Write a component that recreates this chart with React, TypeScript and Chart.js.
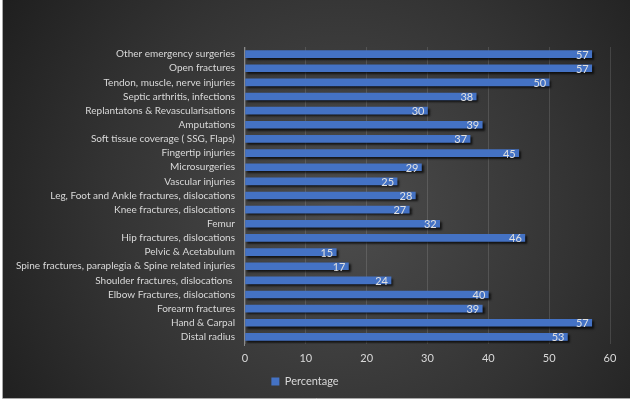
import React, { useEffect, useRef } from "react";
import { Chart, registerables } from "chart.js";

Chart.register(...registerables);

const categories = [
  "Other emergency surgeries",
  "Open fractures",
  "Tendon, muscle, nerve injuries",
  "Septic arthritis, infections",
  "Replantatons & Revascularisations",
  "Amputations",
  "Soft tissue coverage ( SSG, Flaps)",
  "Fingertip injuries",
  "Microsurgeries",
  "Vascular injuries",
  "Leg, Foot and Ankle fractures, dislocations",
  "Knee fractures, dislocations",
  "Femur",
  "Hip fractures, dislocations",
  "Pelvic & Acetabulum",
  "Spine fractures, paraplegia & Spine related injuries",
  "Shoulder fractures, dislocations ",
  "Elbow Fractures, dislocations",
  "Forearm fractures",
  "Hand & Carpal",
  "Distal radius",
];

const percentage = [57, 57, 50, 38, 30, 39, 37, 45, 29, 25, 28, 27, 32, 46, 15, 17, 24, 40, 39, 57, 53];

const seriesName = "Percentage";
const xTicks = [0, 10, 20, 30, 40, 50, 60];

const FONT = "Lato, 'Open Sans', sans-serif";

const bgPlugin = {
  id: "bgPlugin",
  beforeDraw(chart: any) {
    const { ctx, width, height } = chart;
    ctx.save();
    ctx.fillStyle = "#ffffff";
    ctx.fillRect(0, 0, width, height);
    const g = ctx.createRadialGradient(340, 210, 10, 340, 210, 420);
    g.addColorStop(0, "#4c4c4c");
    g.addColorStop(0.55, "#333333");
    g.addColorStop(1, "#1c1c1c");
    ctx.fillStyle = g;
    ctx.fillRect(3, 0, width - 3, height - 3);
    ctx.strokeStyle = "#a8a8a8";
    ctx.lineWidth = 1;
    ctx.beginPath();
    ctx.moveTo(2.5, 0);
    ctx.lineTo(2.5, height - 2.5);
    ctx.lineTo(width, height - 2.5);
    ctx.stroke();
    ctx.restore();
  },
};

const shadowPlugin = {
  id: "shadowPlugin",
  beforeDatasetDraw(chart: any) {
    const ctx = chart.ctx;
    ctx.save();
    ctx.shadowColor = "rgba(0,0,0,0.7)";
    ctx.shadowOffsetX = 2;
    ctx.shadowOffsetY = 2;
    ctx.shadowBlur = 2;
  },
  afterDatasetDraw(chart: any) {
    chart.ctx.restore();
  },
};

const labelPlugin = {
  id: "labelPlugin",
  afterDatasetsDraw(chart: any) {
    const ctx = chart.ctx;
    const meta = chart.getDatasetMeta(0);
    const data = chart.data.datasets[0].data;
    ctx.save();
    ctx.font = `11px ${FONT}`;
    ctx.fillStyle = "#e0e0e0";
    ctx.textAlign = "right";
    ctx.textBaseline = "middle";
    meta.data.forEach((bar: any, i: number) => {
      ctx.fillText(String(data[i]), bar.x - 3, bar.y + 1);
    });
    ctx.restore();
  },
};

const axisLinePlugin = {
  id: "axisLinePlugin",
  afterDatasetsDraw(chart: any) {
    const { ctx, chartArea } = chart;
    ctx.save();
    ctx.strokeStyle = "#8a8a8a";
    ctx.lineWidth = 1;
    ctx.beginPath();
    ctx.moveTo(Math.round(chartArea.left) - 0.5, chartArea.top);
    ctx.lineTo(Math.round(chartArea.left) - 0.5, chartArea.bottom + 2);
    ctx.stroke();
    ctx.restore();
  },
};

export default function App() {
  const ref = useRef<HTMLCanvasElement | null>(null);

  useEffect(() => {
    document.body.style.margin = "0";
    const canvas = ref.current;
    if (!canvas) return;
    const chart = new Chart(canvas, {
      type: "bar",
      data: {
        labels: categories,
        datasets: [
          {
            label: seriesName,
            data: percentage,
            backgroundColor: "#4472c4",
            borderWidth: 0,
            barThickness: 7,
          },
        ],
      },
      options: {
        indexAxis: "y",
        animation: false,
        responsive: false,
        maintainAspectRatio: false,
        layout: { padding: { top: 47, right: 20, bottom: 4, left: 0 } },
        scales: {
          x: {
            min: 0,
            max: 60,
            afterBuildTicks(scale: any) {
              scale.ticks = xTicks.map((v) => ({ value: v }));
            },
            grid: {
              color: "rgba(255,255,255,0.13)",
              drawTicks: false,
              lineWidth: 1,
            },
            border: { display: false },
            ticks: {
              color: "#d9d9d9",
              font: { family: FONT, size: 11 },
              padding: 8,
            },
            afterFit(scale: any) {
              scale.height = 22;
            },
          },
          y: {
            grid: { display: false, drawTicks: false },
            border: { display: false },
            ticks: {
              color: "#d9d9d9",
              font: { family: FONT, size: 10 },
              padding: 10,
              autoSkip: false,
            },
            afterFit(scale: any) {
              scale.width = 245;
            },
          },
        },
        plugins: {
          legend: {
            position: "bottom",
            labels: {
              color: "#d9d9d9",
              font: { family: FONT, size: 11 },
              boxWidth: 8,
              boxHeight: 8,
              padding: 10,
            },
          },
          tooltip: { enabled: false },
        },
      },
      plugins: [bgPlugin, shadowPlugin, labelPlugin, axisLinePlugin],
    } as any);
    return () => chart.destroy();
  }, []);

  return (
    <div style={{ position: "absolute", left: 0, top: 0, width: 630, height: 401 }}>
      <canvas ref={ref} width={630} height={401} style={{ display: "block", width: 630, height: 401 }} />
    </div>
  );
}
